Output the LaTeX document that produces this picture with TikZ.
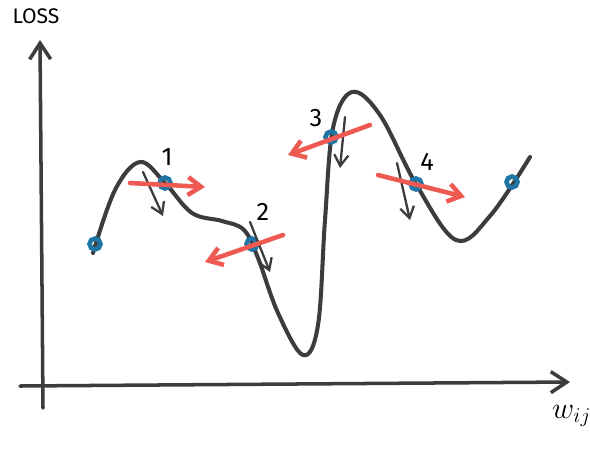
\documentclass[tikz,border=0pt]{standalone}
\usepackage{fontspec}
\setmainfont{Fira Sans}
\usetikzlibrary{positioning,arrows.meta}

\definecolor{curvegray}{HTML}{3C3C3C}
\definecolor{gradred}{HTML}{EE5A52}
\definecolor{pointblue}{HTML}{1F75A6}

\begin{document}
\begin{tikzpicture}[
    x=0.02cm, y=-0.02cm,
    axis/.style={draw=curvegray, line width=2pt, line cap=round, -{Straight Barb[length=3.2mm, width=4.2mm, line width=2pt]}},
    loss/.style={draw=curvegray, line width=2.3pt, line cap=round},
    grad/.style={draw=gradred, line width=2.6pt, line cap=round, -{Straight Barb[length=2.6mm, width=3.6mm, line width=2.6pt]}},
    slope/.style={draw=curvegray, line width=1.3pt, line cap=round, -{Straight Barb[length=2.2mm, width=2.8mm, line width=1.3pt]}},
    wpoint/.style={circle, draw=pointblue, line width=2.6pt, inner sep=0pt, minimum size=2.2mm},
    numlabel/.style={font=\Large, text=black}
]
\useasboundingbox (0,0) rectangle (590,450);

% axes
\coordinate (yfoot) at (43,408);
\coordinate (ytip) at (40,40);
\coordinate (xfoot) at (20,386);
\coordinate (xtip) at (570,382);
\draw[axis] (yfoot) -- (ytip);
\draw[axis] (xfoot) -- (xtip);
\node[font=\large] (losslabel) at (36,16) {LOSS};
\node[font=\LARGE, anchor=west] (wlabel) at (546,416) {$w_{ij}$};

% loss curve
\draw[loss] plot[smooth, tension=0.6] coordinates {
    (93,253) (115,190) (140,162) (165,183) (192,213) (222,221) (244,230)
    (258,258) (278,313) (303,355) (318,325) (325,220) (333,128) (352,92)
    (380,115) (416,184) (456,240) (490,216) (530,157)};

% weights on the curve
\node[wpoint] (p0) at (95,244) {};
\node[wpoint] (p1) at (165,183) {};
\node[wpoint] (p2) at (252,244) {};
\node[wpoint] (p3) at (331,137) {};
\node[wpoint] (p4) at (416,184) {};
\node[wpoint] (p5) at (512,182) {};

% slopes
\coordinate (s1a) at (143,172); \coordinate (s1b) at (163,216);
\coordinate (s2a) at (250,222); \coordinate (s2b) at (270,272);
\coordinate (s3a) at (345,117); \coordinate (s3b) at (340,168);
\coordinate (s4a) at (397,163); \coordinate (s4b) at (410,220);
\draw[slope] (s1a) -- (s1b);
\draw[slope] (s2a) -- (s2b);
\draw[slope] (s3a) -- (s3b);
\draw[slope] (s4a) -- (s4b);

% gradient steps
\coordinate (g1a) at (130,183); \coordinate (g1b) at (205,187);
\coordinate (g2a) at (283,235); \coordinate (g2b) at (205,262);
\coordinate (g3a) at (370,125); \coordinate (g3b) at (288,155);
\coordinate (g4a) at (378,175); \coordinate (g4b) at (465,197);
\draw[grad] (g1a) -- (g1b);
\draw[grad] (g2a) -- (g2b);
\draw[grad] (g3a) -- (g3b);
\draw[grad] (g4a) -- (g4b);

% step numbers
\node[numlabel] (n1) at (167,157) {1};
\node[numlabel] (n2) at (263,212) {2};
\node[numlabel] (n3) at (316,118) {3};
\node[numlabel] (n4) at (427,162) {4};
\end{tikzpicture}
\end{document}
